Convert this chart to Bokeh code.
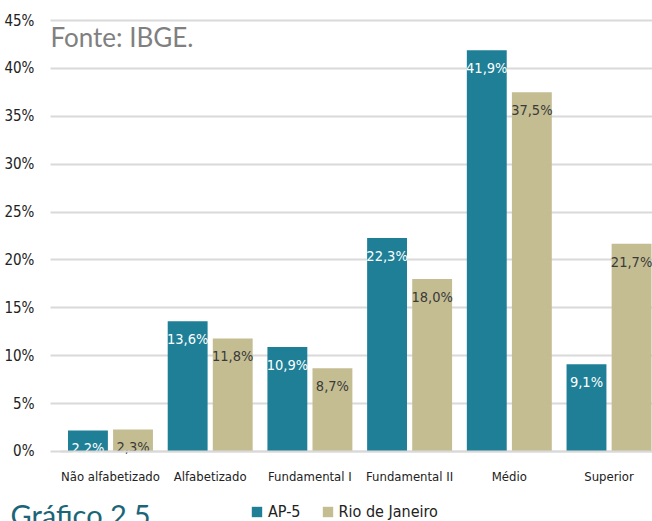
from bokeh.plotting import figure
from bokeh.models import ColumnDataSource, Range1d, Legend, LegendItem, Label, FixedTicker
from bokeh.transform import dodge
from bokeh.core.properties import value
from bokeh.embed import file_html
from bokeh.resources import INLINE

categories = ["Não alfabetizado", "Alfabetizado", "Fundamental I", "Fundamental II", "Médio", "Superior"]
ap5 = [2.2, 13.6, 10.9, 22.3, 41.9, 9.1]
rio = [2.3, 11.8, 8.7, 18.0, 37.5, 21.7]
y_ticks = [0, 5, 10, 15, 20, 25, 30, 35, 40, 45]

FONT = "'DejaVu Sans Condensed', 'Roboto', sans-serif"
FONT2 = "Lato"
TEAL = "#1e7f97"
BEIGE = "#c4bd92"

X0, X1 = -1.103, 5.436     # visible x range (category units)
Y0, Y1 = -7.31, 47.09      # visible y range (percent)
AXIS_X = -0.622            # where the value axis sits
GRID_X = -0.602            # where grid lines begin
BASE_X = -0.50             # where the baseline begins

src = ColumnDataSource(dict(
    x=list(range(len(categories))),
    ap5=ap5, rio=rio,
    ap5_lbl=[f"{v:.1f}%".replace(".", ",") for v in ap5],
    rio_lbl=[f"{v:.1f}%".replace(".", ",") for v in rio],
))

p = figure(width=652, height=521, output_backend="svg", toolbar_location=None,
           x_range=Range1d(X0, X1), y_range=Range1d(Y0, Y1),
           min_border_left=0, min_border_right=0, min_border_top=0, min_border_bottom=0)
p.outline_line_color = None
p.background_fill_color = "white"

r1 = p.vbar(x=dodge("x", -0.226), top="ap5", width=0.40, source=src, fill_color=TEAL, line_color=None)
r2 = p.vbar(x=dodge("x", 0.226), top="rio", width=0.40, source=src, fill_color=BEIGE, line_color=None)

p.text(x=dodge("x", -0.226), y="ap5", text="ap5_lbl", source=src, text_align="center",
       text_baseline="middle", y_offset=18, text_font=value(FONT), text_font_size="14.5px", text_color="white")
p.text(x=dodge("x", 0.226), y="rio", text="rio_lbl", source=src, text_align="center",
       text_baseline="middle", y_offset=18, text_font=value(FONT), text_font_size="14.5px", text_color="#3a3a3a")

# axes
p.xaxis.fixed_location = 0
p.xaxis.bounds = (BASE_X, X1)
p.xaxis.ticker = FixedTicker(ticks=list(range(len(categories))))
p.xaxis.major_label_overrides = {i: c for i, c in enumerate(categories)}
p.xaxis.major_tick_line_color = None
p.xaxis.minor_tick_line_color = None
p.xaxis.axis_line_color = "#d9d9d9"
p.xaxis.axis_line_width = 2
p.xaxis.major_label_text_font = FONT
p.xaxis.major_label_text_font_size = "13px"
p.xaxis.major_label_text_color = "#222222"
p.xaxis.major_label_standoff = 12

p.yaxis.fixed_location = AXIS_X
p.yaxis.ticker = FixedTicker(ticks=y_ticks)
p.yaxis.major_label_overrides = {t: f"{t}%" for t in y_ticks}
p.yaxis.major_tick_line_color = None
p.yaxis.minor_tick_line_color = None
p.yaxis.axis_line_color = None
p.yaxis.major_label_text_font = FONT
p.yaxis.major_label_text_font_size = "15px"
p.yaxis.major_label_text_color = "#222222"
p.yaxis.major_label_standoff = 8

p.xgrid.grid_line_color = None
p.ygrid.ticker = FixedTicker(ticks=y_ticks)
p.ygrid.grid_line_color = "#d9d9d9"
p.ygrid.grid_line_width = 2
p.ygrid.cross_bounds = (GRID_X, X1)

p.add_layout(Label(x=-0.602, y=45.0, text="Fonte: IBGE.", text_font=FONT2, text_font_size="26px",
                   text_color="#808080", text_baseline="top", text_align="left"))
p.add_layout(Label(x=-1.003, y=-4.8, text="Gráfico 2.5", text_font=FONT2, text_font_size="29px",
                   text_color="#1a6577", text_baseline="top", text_align="left"))

legend = Legend(items=[LegendItem(label="AP-5", renderers=[r1]), LegendItem(label="Rio de Janeiro", renderers=[r2])],
                orientation="horizontal", location=(250, 0), padding=0, margin=0, spacing=20,
                glyph_width=13, glyph_height=13, label_standoff=5,
                label_text_font=FONT, label_text_font_size="16px", label_text_color="#222222",
                border_line_alpha=0, background_fill_alpha=0)
p.add_layout(legend, "center")

html = file_html(p, INLINE)
html = html.replace("<head>", "<head><style>html,body{overflow:hidden}</style>", 1)
open("out.html", "w").write(html)
